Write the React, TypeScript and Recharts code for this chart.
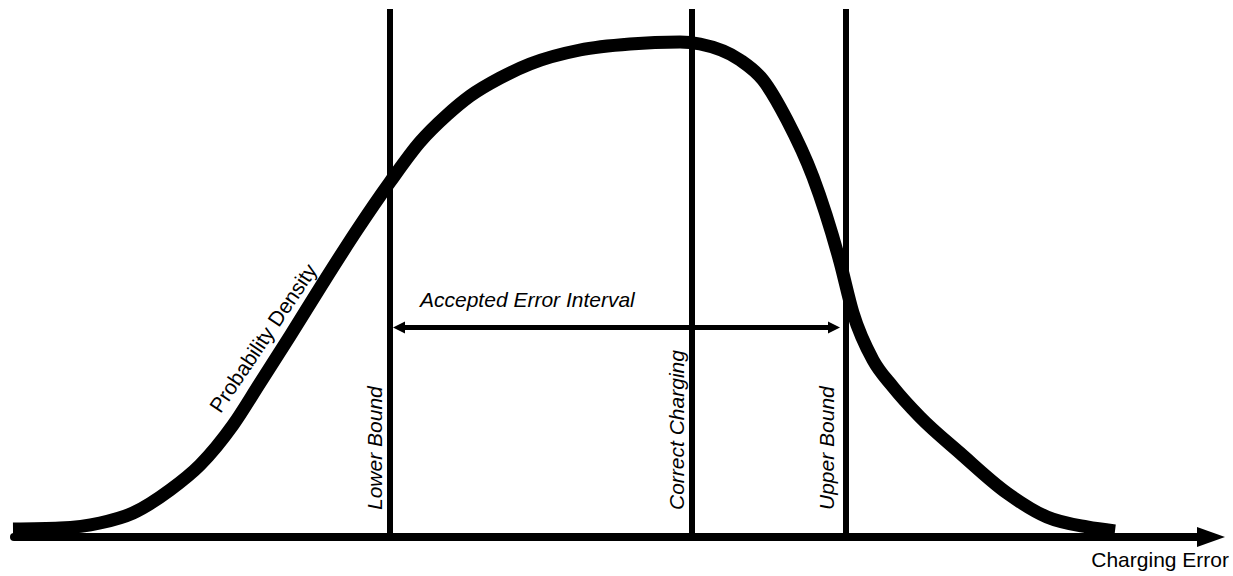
import React from "react";
import { ComposedChart, Line, XAxis, YAxis, ReferenceLine, ReferenceDot } from "recharts";

// charging error (0 = correct charging) and probability density
const errorX = [
	-67.9, -63.2, -59.2, -55.9, -52.2, -49.2, -45.9, -43.2, -40.2, -36.9, -33.5,
	-30.2, -27.2, -24.5, -22.2, -19.2, -16.2, -11.2, -6.2, -1.2, 0.8, 4.8, 7.1, 9.5,
	12.1, 14.8, 16.1, 18.1, 20.1, 22.8, 26.8, 31.5, 35.5, 39.5, 42.3
];
const densityY = [
	1.6, 1.8, 2.8, 4.8, 9.4, 14.4, 22.4, 30.8, 40.2, 50.8, 61.4, 71.0, 79.0, 84.4,
	88.2, 91.8, 94.6, 97.4, 98.6, 99.0, 98.6, 95.4, 91.4, 83.4, 72.0, 55.0, 44.8,
	35.4, 30.0, 24.0, 16.8, 8.8, 4.0, 2.0, 1.2
];

const boundNames = ["Lower Bound", "Correct Charging", "Upper Bound"];
const boundX = [-30.2, 0, 15.4];
const boundTop = 105.6;

const axisFrom = -67.8;
const axisTo = 53.3;
const intervalFrom = -29.9;
const intervalTo = 14.8;
const intervalLevel = 41.9;

const data = errorX.map((x, i) => ({ x, y: densityY[i] }));

const font = "'Liberation Sans', Arial, sans-serif";

const boundShape = (label: string, dx: number) => (p: any) => {
	const bottom = Math.max(p.y1, p.y2);
	const tx = p.x1 + dx;
	const ty = bottom - 27;
	return (
		<g>
			<line x1={p.x1} y1={p.y1} x2={p.x2} y2={p.y2} stroke="#000" strokeWidth={6} />
			<text
				x={tx}
				y={ty}
				transform={`rotate(-90 ${tx} ${ty})`}
				fontSize={21}
				fontStyle="italic"
				fontFamily={font}
				fill="#000"
			>
				{label}
			</text>
		</g>
	);
};

const axisShape = (p: any) => {
	const y = p.y1;
	return (
		<g>
			<line x1={p.x1} y1={y} x2={p.x2 - 26} y2={y} stroke="#000" strokeWidth={8} strokeLinecap="round" />
			<polygon points={`${p.x2 - 28},${y - 10} ${p.x2},${y} ${p.x2 - 28},${y + 10}`} fill="#000" />
			<text x={p.x2 + 4} y={y + 30} textAnchor="end" fontSize={21} fontFamily={font} fill="#000">
				Charging Error
			</text>
		</g>
	);
};

const intervalShape = (p: any) => {
	const y = p.y1;
	return (
		<g>
			<line x1={p.x1 + 10} y1={y} x2={p.x2 - 10} y2={y} stroke="#000" strokeWidth={5} />
			<polygon points={`${p.x1 + 12},${y - 6} ${p.x1},${y} ${p.x1 + 12},${y + 6}`} fill="#000" />
			<polygon points={`${p.x2 - 12},${y - 6} ${p.x2},${y} ${p.x2 - 12},${y + 6}`} fill="#000" />
			<text x={p.x1 + 27} y={y - 21} fontSize={21} fontStyle="italic" fontFamily={font} fill="#000">
				Accepted Error Interval
			</text>
		</g>
	);
};

const densityLabel = (p: any) => (
	<text
		x={p.cx}
		y={p.cy}
		transform={`rotate(-56 ${p.cx} ${p.cy})`}
		textAnchor="middle"
		dominantBaseline="central"
		fontSize={21}
		fontFamily={font}
		fill="#000"
	>
		Probability Density
	</text>
);

const App = () => {
	return (
		<div style={{ position: "absolute", left: 0, top: 0, width: 1233, height: 576, background: "#fff" }}>
			<ComposedChart width={1233} height={576} data={data} margin={{ top: 0, right: 0, left: 0, bottom: 0 }}>
				<XAxis type="number" dataKey="x" domain={[-69.2, 54.1]} hide />
				<YAxis type="number" domain={[-7.8, 107.4]} hide />
				<ReferenceLine
					segment={[{ x: axisFrom, y: 0 }, { x: axisTo, y: 0 }]}
					shape={axisShape}
				/>
				{boundX.map((bx, i) => (
					<ReferenceLine
						key={boundNames[i]}
						segment={[{ x: bx, y: 0 }, { x: bx, y: boundTop }]}
						shape={boundShape(boundNames[i], i === 2 ? -12 : -8)}
					/>
				))}
				<ReferenceLine
					segment={[{ x: intervalFrom, y: intervalLevel }, { x: intervalTo, y: intervalLevel }]}
					shape={intervalShape}
				/>
				<ReferenceDot x={-42.9} y={39.8} r={0} shape={densityLabel} />
				<Line
					type="monotone"
					dataKey="y"
					stroke="#000"
					strokeWidth={13}
					dot={false}
					activeDot={false}
					isAnimationActive={false}
				/>
			</ComposedChart>
		</div>
	);
};

export default App;
